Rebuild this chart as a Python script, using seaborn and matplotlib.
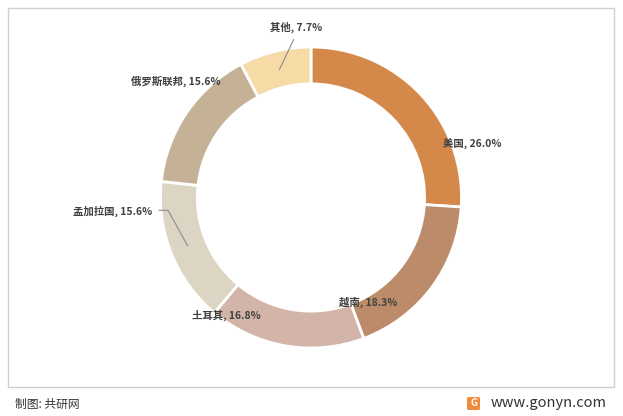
import matplotlib
matplotlib.use("Agg")
import matplotlib.pyplot as plt
import seaborn as sns
from matplotlib.patches import Rectangle, FancyBboxPatch

sns.set_theme(style="white")
plt.rcParams['font.family'] = ['Noto Sans CJK SC', 'DejaVu Sans']

categories = ["美国", "越南", "土耳其", "孟加拉国", "俄罗斯联邦", "其他"]
shares = [26.0, 18.3, 16.8, 15.6, 15.6, 7.7]
colors = ["#D4894B", "#BC8C6A", "#D2B4A8", "#DDD5C4", "#C4B196", "#F7DBA7"]

# label placement (data units, pie radius = 1)
label_pos = [(1.07, 0.36), (0.38, -0.70), (-0.56, -0.78), (-1.32, -0.09), (-0.90, 0.77), (-0.10, 1.13)]
leaders = {3: [(-1.01, -0.085), (-0.95, -0.085), (-0.82, -0.32)],
           5: [(-0.115, 1.05), (-0.21, 0.85)]}

W, H = 623, 416
fig = plt.figure(figsize=(W / 100, H / 100), dpi=100)
fig.patch.set_facecolor("white")

# border box
fig.add_artist(Rectangle((8 / W, 1 - 387 / H), (614 - 8) / W, (387 - 8) / H,
                         transform=fig.transFigure, fill=False, edgecolor="#D0D0D0", linewidth=1))

cx, cy, R = 311, 197.5, 150.5
ax = fig.add_axes([(cx - R) / W, (H - cy - R) / H, 2 * R / W, 2 * R / H])
ax.pie(shares, colors=colors, startangle=90, counterclock=False, radius=1,
       wedgeprops=dict(width=0.245, edgecolor="white", linewidth=2))
ax.set_xlim(-1, 1)
ax.set_ylim(-1, 1)
ax.set_aspect("equal")
ax.axis("off")

for i, (cat, val) in enumerate(zip(categories, shares)):
    x, y = label_pos[i]
    ax.text(x, y, f"{cat}, {val:.1f}%", ha="center", va="center", fontsize=7.5,
            fontweight="bold", color="#404040", clip_on=False)
for i, pts in leaders.items():
    xs, ys = zip(*pts)
    ax.plot(xs, ys, color="#8C8C8C", linewidth=0.8, clip_on=False)

# footer
fig.text(15 / W, 1 - 404 / H, "制图: 共研网", ha="left", va="center", fontsize=8.5, color="#333333")
fig.text(491 / W, 1 - 403 / H, "www.gonyn.com", ha="left", va="center", fontsize=10.5, color="#333333")
fig.add_artist(FancyBboxPatch((467 / W, 1 - 410 / H), 13 / W, 13 / H, boxstyle="round,pad=0,rounding_size=0.003",
                              transform=fig.transFigure, facecolor="#F08A3C", edgecolor="none"))
fig.text(473.5 / W, 1 - 403.5 / H, "G", ha="center", va="center", fontsize=7, fontweight="bold", color="white")

fig.savefig("out.png", dpi=100)
